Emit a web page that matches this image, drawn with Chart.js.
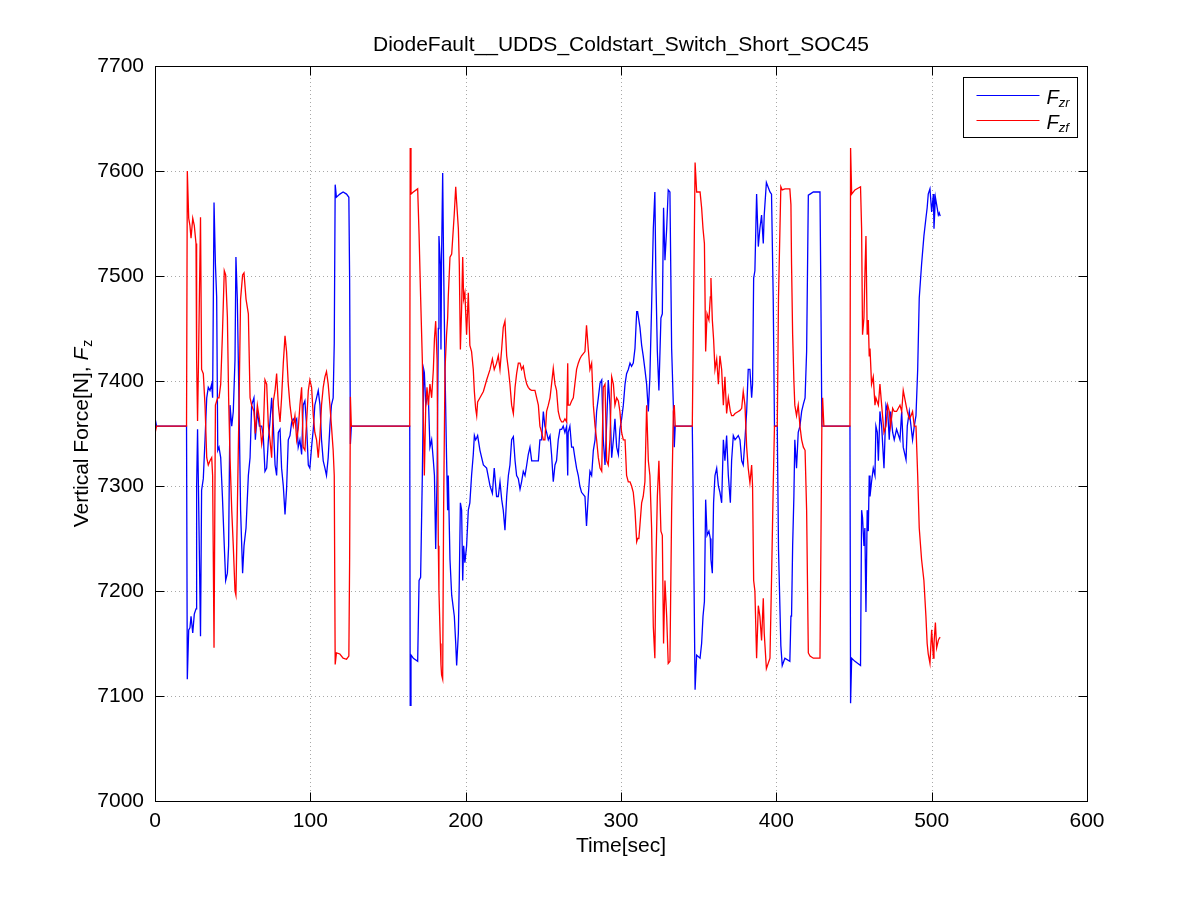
<!DOCTYPE html>
<html><head><meta charset="utf-8">
<script src="https://cdn.jsdelivr.net/npm/chart.js@4.4.1/dist/chart.umd.min.js"></script>
<style>html,body{margin:0;padding:0;background:#fff;}canvas{display:block;}</style>
</head><body>
<canvas id="c" width="1201" height="900"></canvas>
<script>
const chartTitle = 'DiodeFault__UDDS_Coldstart_Switch_Short_SOC45';
const xAxisLabel = 'Time[sec]';
const yAxisLabelMain = 'Vertical Force[N], ';
const yAxisLabelSym = ['F', 'z'];
const seriesNames = [['F', 'zr'], ['F', 'zf']];
const xTicks = [0, 100, 200, 300, 400, 500, 600];
const yTicks = [7000, 7100, 7200, 7300, 7400, 7500, 7600, 7700];

const timeSec = [
0,1,20.3,20.8,21.7,22.5,23.2,24.3,25.3,26.4,
26.8,27.4,28.0,29.3,30.0,31.1,32.2,33.3,34.3,35.4,
36.5,37.1,38.0,38.9,39.7,40.4,41.2,42.3,43.4,44.6,
45.5,46.6,47.4,48.3,49.4,50.4,51.5,52.1,53.0,54.1,
55.1,56.4,57.3,58.6,60.1,61.2,62.2,63.7,64.6,65.9,
67.2,68.7,69.7,70.8,71.9,73.0,74.0,75.1,76.2,77.3,
78.3,79.4,80.5,81.5,82.6,83.7,84.7,85.8,86.9,88.0,
89.0,90.1,91.2,92.2,93.3,94.4,95.4,96.5,97.6,98.7,
99.7,100.8,101.9,102.9,104.0,105.1,106.2,107.2,108.3,109.4,
110.4,111.5,112.6,113.6,114.7,115.4,116.0,116.8,119.0,121.1,
123.3,124.8,125.3,125.8,126.4,164.0,164.3,164.8,166.3,169.1,
170.0,171.0,172.1,173.0,173.4,174.3,175.1,176.0,177.0,178.1,
179.2,179.9,180.7,181.6,182.4,182.8,183.7,184.1,184.5,185.2,
185.8,186.7,187.7,188.4,188.8,189.9,191.0,192.7,193.6,194.2,
195.3,195.9,196.6,197.4,198.1,198.7,199.5,200.6,201.7,202.7,
203.8,204.9,205.6,206.4,207.1,207.7,209.2,211.4,213.5,215.7,
217.2,218.4,219.9,221.0,222.1,223.2,224.2,225.3,226.4,227.5,
228.5,229.6,230.7,231.8,232.8,233.9,235.0,236.0,237.1,238.2,
239.3,240.3,241.4,242.5,244.6,246.8,247.8,248.9,250.0,251.0,
252.1,253.2,254.3,255.3,256.4,257.5,258.5,259.6,260.7,261.8,
262.8,263.9,265.0,265.7,266.0,267.1,268.2,269.3,270.3,271.4,
272.5,273.5,274.6,276.8,277.8,278.9,280.0,281.1,282.2,283.3,
284.3,285.4,286.5,287.6,288.6,289.7,290.8,291.8,292.9,294.0,
295.1,296.1,297.2,298.3,299.3,300.4,301.5,302.6,303.6,304.7,
305.8,306.8,307.9,309.0,310.1,310.7,311.5,312.2,313.3,314.3,
315.4,316.5,317.6,318.6,319.7,320.8,321.8,322.5,323.4,324.4,
325.7,326.6,327.4,328.3,329.4,330.4,331.5,332.6,333.7,334.3,
334.9,345.9,346.5,347.7,348.7,350.9,351.9,352.8,353.7,354.5,
355.4,356.6,357.5,357.9,358.8,359.6,360.5,361.6,362.7,363.7,
364.8,365.9,366.9,368.0,369.1,370.4,371.2,372.3,373.4,375.5,
376.6,377.7,378.7,379.8,380.9,381.9,383.0,384.1,384.7,385.4,
386.2,387.3,388.4,389.4,390.5,391.6,392.2,393.6,395.9,396.9,
398.0,398.8,400.6,401.4,402.9,403.8,405.5,408.7,409.4,409.8,
410.5,411.3,411.9,413.0,414.1,415.2,416.3,417.4,418.5,419.5,
420.6,421.7,423.8,428.1,428.7,429.3,429.8,430.6,447.4,447.8,
448.5,450.6,454.2,454.9,455.5,456.4,457.0,457.7,458.5,459.2,
459.8,460.3,461.3,462.4,463.5,464.1,465.0,465.7,466.7,467.8,
469.3,470.6,471.7,472.7,473.6,474.9,475.9,477.4,479.6,480.7,
481.7,483.5,484.3,485.6,486.7,487.7,488.8,489.9,491.0,492.0,
493.5,495.0,496.3,497.1,497.8,498.9,500.0,501.1,501.5,502.4,
503.2,504.3,504.9,505.5
];

const fzrValues = [
7365,7357,7357,7116,7163,7165,7176,7160,7178,7183,
7300,7354,7296,7157,7296,7307,7344,7384,7394,7391,
7397,7384,7570,7511,7480,7334,7337,7327,7290,7243,
7210,7217,7243,7377,7357,7371,7420,7518,7478,7377,
7277,7217,7243,7260,7310,7327,7377,7384,7344,7371,
7357,7357,7348,7314,7317,7344,7361,7384,7357,7320,
7310,7351,7354,7317,7300,7273,7297,7344,7348,7361,
7364,7361,7364,7337,7344,7330,7377,7381,7357,7320,
7317,7337,7354,7377,7384,7391,7377,7344,7324,7317,
7310,7327,7357,7377,7384,7436,7587,7575,7578,7580,
7578,7575,7497,7340,7357,7357,7091,7139,7136,7133,
7210,7213,7310,7411,7408,7377,7384,7384,7337,7344,
7324,7310,7240,7310,7450,7538,7511,7430,7520,7598,
7511,7411,7327,7277,7310,7230,7196,7176,7150,7129,
7160,7210,7284,7277,7210,7243,7227,7243,7277,7284,
7310,7330,7348,7344,7346,7348,7334,7320,7317,7300,
7293,7317,7290,7290,7304,7287,7277,7258,7290,7310,
7320,7344,7347,7324,7310,7307,7297,7304,7314,7310,
7320,7330,7337,7324,7324,7324,7344,7344,7371,7357,
7351,7344,7348,7330,7304,7320,7324,7344,7354,7354,
7357,7351,7357,7310,7351,7357,7337,7337,7327,7317,
7310,7300,7294,7290,7262,7290,7314,7310,7334,7344,
7371,7384,7398,7401,7344,7320,7361,7401,7377,7327,
7344,7364,7337,7330,7354,7364,7377,7397,7407,7411,
7417,7414,7417,7431,7466,7466,7458,7451,7434,7424,
7411,7397,7371,7404,7471,7545,7580,7494,7428,7391,
7460,7464,7565,7515,7545,7582,7580,7431,7377,7337,
7357,7357,7284,7106,7139,7136,7150,7176,7190,7287,
7253,7257,7250,7230,7217,7284,7310,7317,7300,7294,
7284,7344,7324,7348,7310,7284,7324,7348,7344,7348,
7344,7324,7320,7344,7371,7411,7411,7384,7397,7498,
7505,7578,7528,7545,7558,7531,7558,7589,7580,7578,
7478,7357,7357,7240,7148,7129,7136,7133,7176,7176,
7243,7290,7344,7317,7351,7357,7371,7378,7384,7428,
7577,7578,7580,7580,7478,7357,7357,7357,7357,7093,
7136,7133,7129,7277,7270,7243,7260,7180,7277,7257,
7310,7290,7304,7317,7310,7357,7351,7324,7371,7357,
7317,7377,7371,7344,7371,7351,7344,7354,7344,7371,
7337,7325,7357,7371,7357,7344,7357,7367,7411,7479,
7511,7538,7555,7565,7578,7583,7561,7578,7545,7575,
7568,7558,7560,7557
];

const fzfValues = [
7350,7357,7357,7600,7555,7548,7536,7555,7548,7531,
7420,7362,7418,7556,7411,7407,7377,7327,7320,7324,
7327,7310,7146,7377,7381,7384,7384,7397,7444,7505,
7501,7461,7384,7327,7277,7243,7200,7196,7277,7377,
7478,7501,7503,7478,7464,7384,7377,7371,7350,7377,
7364,7340,7351,7401,7397,7357,7344,7327,7381,7391,
7407,7377,7361,7384,7417,7443,7428,7397,7377,7364,
7357,7367,7344,7354,7377,7394,7337,7334,7361,7391,
7401,7394,7367,7351,7344,7327,7348,7377,7394,7404,
7409,7397,7377,7357,7334,7310,7130,7141,7140,7136,
7135,7138,7230,7385,7357,7357,7622,7578,7580,7583,
7540,7480,7420,7344,7310,7377,7394,7377,7397,7384,
7411,7440,7457,7420,7243,7200,7150,7130,7120,7116,
7277,7411,7444,7460,7480,7518,7521,7560,7585,7570,
7545,7511,7430,7470,7518,7478,7484,7444,7484,7434,
7428,7411,7390,7374,7367,7380,7384,7390,7401,7411,
7421,7411,7417,7424,7411,7431,7451,7457,7424,7411,
7397,7377,7369,7394,7407,7417,7417,7411,7414,7404,
7397,7394,7392,7391,7391,7377,7357,7351,7344,7344,
7371,7377,7384,7397,7412,7397,7391,7371,7364,7361,
7361,7364,7361,7417,7377,7377,7381,7384,7397,7411,
7417,7421,7424,7428,7453,7431,7411,7417,7377,7357,
7344,7327,7317,7314,7394,7397,7324,7320,7344,7404,
7397,7377,7384,7381,7371,7351,7344,7344,7310,7304,
7304,7300,7294,7277,7247,7250,7250,7263,7284,7290,
7304,7377,7324,7310,7260,7166,7136,7227,7290,7324,
7257,7253,7150,7210,7176,7131,7133,7277,7371,7377,
7357,7357,7440,7608,7580,7580,7565,7545,7531,7428,
7464,7458,7480,7498,7458,7440,7411,7421,7397,7424,
7411,7377,7404,7369,7384,7371,7367,7367,7369,7371,
7372,7374,7390,7377,7337,7317,7303,7320,7300,7210,
7200,7136,7186,7176,7153,7193,7160,7126,7136,7210,
7300,7357,7357,7480,7585,7582,7583,7583,7568,7511,
7444,7400,7377,7367,7377,7357,7344,7337,7334,7277,
7141,7138,7136,7136,7243,7357,7384,7357,7357,7622,
7578,7582,7585,7545,7444,7460,7500,7538,7444,7458,
7424,7431,7397,7404,7377,7384,7380,7377,7397,7377,
7351,7357,7377,7371,7357,7374,7371,7371,7377,7371,
7391,7377,7371,7364,7367,7371,7357,7357,7310,7260,
7230,7210,7176,7150,7140,7131,7163,7136,7150,7170,
7146,7153,7155,7156
];

const FONT = '"Liberation Sans", Arial, Helvetica, sans-serif';
const n = Math.min(timeSec.length, fzrValues.length, fzfValues.length);
const toPts = vals => timeSec.slice(0, n).map((t, i) => ({ x: t, y: vals[i] }));

const framePlugin = {
  id: 'matlabFrame',
  beforeDatasetsDraw(chart) {
    const { ctx, chartArea: a, scales: { x, y } } = chart;
    ctx.save();
    ctx.strokeStyle = '#a8a8a8';
    ctx.lineWidth = 1;
    ctx.setLineDash([1, 3]);
    xTicks.forEach(v => {
      const px = Math.round(x.getPixelForValue(v)) + 0.5;
      ctx.beginPath(); ctx.moveTo(px, a.top); ctx.lineTo(px, a.bottom); ctx.stroke();
    });
    yTicks.forEach(v => {
      const py = Math.round(y.getPixelForValue(v)) + 0.5;
      ctx.beginPath(); ctx.moveTo(a.left, py); ctx.lineTo(a.right, py); ctx.stroke();
    });
    ctx.restore();
  },
  afterDatasetsDraw(chart) {
    const { ctx, chartArea: a, scales: { x, y } } = chart;
    ctx.save();
    ctx.setLineDash([]);
    ctx.strokeStyle = '#000';
    ctx.lineWidth = 1;
    const L = Math.round(a.left) + 0.5, R = Math.round(a.right) + 0.5;
    const T = Math.round(a.top) + 0.5, B = Math.round(a.bottom) + 0.5;
    ctx.strokeRect(L, T, R - L, B - T);
    const tl = 9;
    xTicks.forEach(v => {
      const px = Math.round(x.getPixelForValue(v)) + 0.5;
      ctx.beginPath();
      ctx.moveTo(px, B); ctx.lineTo(px, B - tl);
      ctx.moveTo(px, T); ctx.lineTo(px, T + tl);
      ctx.stroke();
    });
    yTicks.forEach(v => {
      const py = Math.round(y.getPixelForValue(v)) + 0.5;
      ctx.beginPath();
      ctx.moveTo(L, py); ctx.lineTo(L + tl, py);
      ctx.moveTo(R, py); ctx.lineTo(R - tl, py);
      ctx.stroke();
    });
    // legend
    const bw = 114, bh = 60;
    const bx = Math.round(a.right - 10 - bw) + 0.5, by = Math.round(a.top + 11) + 0.5;
    ctx.fillStyle = '#fff';
    ctx.fillRect(bx, by, bw, bh);
    ctx.strokeStyle = '#000';
    ctx.strokeRect(bx, by, bw, bh);
    const colors = ['#0000ff', '#ff0000'];
    seriesNames.forEach((nm, i) => {
      const ly = Math.round(by + 17 + i * 25) + 0.5;
      ctx.strokeStyle = colors[i];
      ctx.lineWidth = 1.2;
      ctx.beginPath(); ctx.moveTo(bx + 13, ly); ctx.lineTo(bx + 76, ly); ctx.stroke();
      ctx.fillStyle = '#000';
      ctx.textBaseline = 'alphabetic';
      ctx.textAlign = 'left';
      ctx.font = 'italic 20px ' + FONT;
      const tx = bx + 83;
      ctx.fillText(nm[0], tx, ly + 8);
      const w = ctx.measureText(nm[0]).width;
      ctx.font = 'italic 13px ' + FONT;
      ctx.fillText(nm[1], tx + w, ly + 11);
    });
    ctx.restore();
  },
  afterDraw(chart) {
    const { ctx, chartArea: a } = chart;
    ctx.save();
    ctx.fillStyle = '#000';
    ctx.textAlign = 'center';
    ctx.textBaseline = 'middle';
    const cx = (a.left + a.right) / 2;
    ctx.font = '21px ' + FONT;
    ctx.fillText(chartTitle, cx, 45);
    ctx.font = '21px ' + FONT;
    ctx.fillText(xAxisLabel, cx, 846);
    // y label
    ctx.translate(81, (a.top + a.bottom) / 2);
    ctx.rotate(-Math.PI / 2);
    ctx.textBaseline = 'alphabetic';
    ctx.textAlign = 'left';
    ctx.font = '21px ' + FONT;
    const w1 = ctx.measureText(yAxisLabelMain).width;
    ctx.font = 'italic 21px ' + FONT;
    const w2 = ctx.measureText(yAxisLabelSym[0]).width;
    ctx.font = '14px ' + FONT;
    const w3 = ctx.measureText(yAxisLabelSym[1]).width;
    const total = w1 + w2 + w3 + 1;
    let sx = -total / 2;
    ctx.font = '21px ' + FONT;
    ctx.fillText(yAxisLabelMain, sx, 7);
    sx += w1;
    ctx.font = 'italic 21px ' + FONT;
    ctx.fillText(yAxisLabelSym[0], sx, 7);
    sx += w2 + 1;
    ctx.font = '14px ' + FONT;
    ctx.fillText(yAxisLabelSym[1], sx, 11);
    ctx.restore();
  }
};

new Chart(document.getElementById('c'), {
  type: 'line',
  data: {
    datasets: [
      { label: 'Fzr', data: toPts(fzrValues), borderColor: '#0000ff', borderWidth: 1.3, pointRadius: 0, tension: 0, fill: false, order: 2 },
      { label: 'Fzf', data: toPts(fzfValues), borderColor: '#ff0000', borderWidth: 1.3, pointRadius: 0, tension: 0, fill: false, order: 1 }
    ]
  },
  options: {
    responsive: false,
    animation: false,
    devicePixelRatio: 1,
    layout: { padding: { left: 0, right: 114, top: 66, bottom: 0 } },
    scales: {
      x: {
        type: 'linear', min: 0, max: 600,
        afterBuildTicks: s => { s.ticks = xTicks.map(v => ({ value: v })); },
        afterFit: s => { s.height = 99; },
        ticks: { color: '#000', font: { family: FONT, size: 21 }, padding: 8, maxRotation: 0, autoSkip: false, callback: v => String(v) },
        grid: { display: false, drawTicks: false },
        border: { display: false }
      },
      y: {
        type: 'linear', min: 7000, max: 7700,
        afterBuildTicks: s => { s.ticks = yTicks.map(v => ({ value: v })); },
        afterFit: s => { s.width = 155; },
        ticks: { color: '#000', font: { family: FONT, size: 21 }, padding: 11, autoSkip: false, callback: v => String(v) },
        grid: { display: false, drawTicks: false },
        border: { display: false }
      }
    },
    plugins: { legend: { display: false }, tooltip: { enabled: false } }
  },
  plugins: [framePlugin]
});
</script>
</body></html>
